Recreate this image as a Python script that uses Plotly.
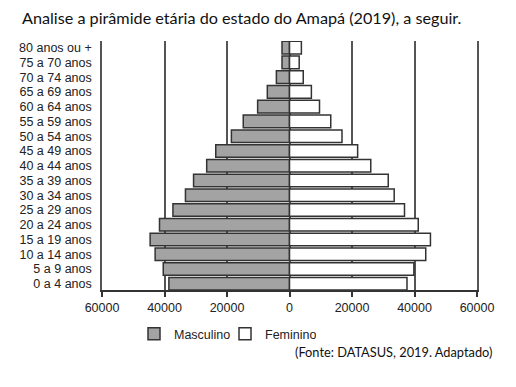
import plotly.graph_objects as go

faixas = ["0 a 4 anos", "5 a 9 anos", "10 a 14 anos", "15 a 19 anos", "20 a 24 anos",
          "25 a 29 anos", "30 a 34 anos", "35 a 39 anos", "40 a 44 anos", "45 a 49 anos",
          "50 a 54 anos", "55 a 59 anos", "60 a 64 anos", "65 a 69 anos", "70 a 74 anos",
          "75 a 70 anos", "80 anos ou +"]
masculino = [38600, 40400, 43000, 44600, 41600, 37300, 33300, 30700, 26500, 23600,
             18600, 14800, 10200, 7100, 4200, 2400, 2400]
feminino = [37600, 39800, 43600, 45100, 41200, 36800, 33500, 31600, 26000, 21800,
            16800, 13200, 9600, 7000, 4400, 3100, 3800]
x_ticks = [-60000, -40000, -20000, 0, 20000, 40000, 60000]
x_labels = ["60000", "40000", "20000", "0", "20000", "40000", "60000"]

# page body has an 8px margin: figure is placed at (8, 8)
L, T, PW, PH = 94, 33, 375, 249

fig = go.Figure()
fig.add_trace(go.Bar(y=faixas, x=[-v for v in masculino], orientation="h", name="Masculino",
                     marker=dict(color="#a3a3a3", line=dict(color="#333333", width=1.5)),
                     width=0.85))
fig.add_trace(go.Bar(y=faixas, x=feminino, orientation="h", name="Feminino",
                     marker=dict(color="#ffffff", line=dict(color="#333333", width=1.5)),
                     width=0.85))

fig.update_layout(
    width=508, height=379,
    margin=dict(l=L, r=508 - L - PW, t=T, b=379 - T - PH, autoexpand=False),
    barmode="relative",
    plot_bgcolor="white", paper_bgcolor="white",
    font=dict(family="Arial", size=12.5, color="#222222"),
    xaxis=dict(range=[-60000, 60000], tickvals=x_ticks, ticktext=x_labels,
               showgrid=True, gridcolor="#555555", gridwidth=1.5,
               zeroline=True, zerolinecolor="#555555", zerolinewidth=1.5,
               showline=True, linecolor="#333333", linewidth=1.5,
               ticks="outside", ticklen=5, tickcolor="#333333", tickwidth=1.5,
               fixedrange=True),
    yaxis=dict(categoryorder="array", categoryarray=faixas, range=[-0.43, 16.45],
               tickmode="array", tickvals=faixas, ticktext=faixas,
               showgrid=False, showline=True, mirror=True, linecolor="#555555", linewidth=1.5,
               ticks="", ticklabelstandoff=6, fixedrange=True),
    showlegend=True,
    legend=dict(orientation="h", x=(126 - L) / PW, xanchor="left",
                y=-(326 - (T + PH)) / PH, yanchor="middle", entrywidth=46,
                font=dict(size=12.5), traceorder="normal", itemwidth=30),
    bargap=0.15,
)

fig.add_annotation(text="Analise a pirâmide etária do estado do Amapá (2019), a seguir.",
                   xref="paper", yref="paper", x=(12 - L) / PW, y=1 + (T - 10) / PH,
                   xanchor="left", yanchor="middle", showarrow=False,
                   font=dict(family="Lato, Open Sans, sans-serif", size=16.2, color="#111111"))
fig.add_annotation(text="(Fonte: DATASUS, 2019. Adaptado)",
                   xref="paper", yref="paper", x=(486 - L) / PW, y=-(344 - (T + PH)) / PH,
                   xanchor="right", yanchor="middle", showarrow=False,
                   font=dict(family="Lato, Open Sans, sans-serif", size=12.8, color="#111111"))

fig.write_html("out.html")
